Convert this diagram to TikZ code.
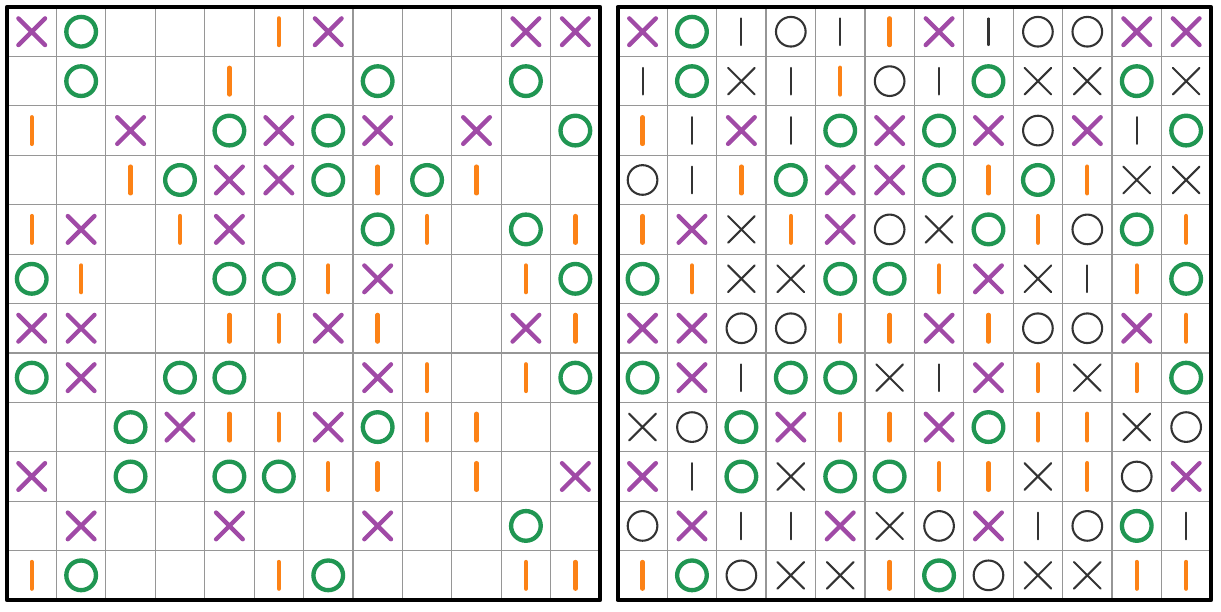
\documentclass[tikz,border=0pt]{standalone}
\usepackage{tikz}
\usetikzlibrary{shapes.misc}

\definecolor{crosspurple}{RGB}{160,74,166}
\definecolor{ringgreen}{RGB}{32,150,82}
\definecolor{barorange}{RGB}{252,130,22}
\definecolor{markgray}{RGB}{51,51,51}
\definecolor{gridgray}{RGB}{150,150,150}

\begin{document}
\begin{tikzpicture}[every node/.style={inner sep=0pt,outer sep=0pt},
  cross mark/.style={cross out,draw,minimum size=0.54cm},
  ring mark/.style={circle,draw,minimum size=0.6cm},
  bar mark/.style={rectangle,draw,line join=round,minimum width=0pt,minimum height=0.54cm},
  given mark/.style={line width=2.5pt,line cap=round},
  solved mark/.style={line width=1.2pt,line cap=round,draw=markgray},
  cX/.style={cross mark,given mark,draw=crosspurple},
  cO/.style={ring mark,given mark,draw=ringgreen},
  cI/.style={bar mark,given mark,draw=barorange},
  cx/.style={cross mark,solved mark},
  co/.style={ring mark,solved mark},
  ci/.style={bar mark,solved mark},
  lX/.style={cX},lO/.style={cO},lI/.style={cI},
  lx/.style={},lo/.style={},li/.style={},
  thin grid/.style={gridgray,line width=0.7pt},
  thick border/.style={black,line width=2.6pt,line join=round}]
\useasboundingbox (-0.142,0.142) rectangle (24.565,-12.242);

% the two grids
\draw[thin grid] (0,0) grid (12,-12);
\begin{scope}[xshift=12.36cm]
  \draw[thin grid] (0,0) grid (12,-12);
\end{scope}

% puzzle (left) and solution (right), capitals are the given cells
\foreach \row [count=\r from 0] in {
  {X,O,i,o,i,I,X,i,o,o,X,X},
  {i,O,x,i,I,o,i,O,x,x,O,x},
  {I,i,X,i,O,X,O,X,o,X,i,O},
  {o,i,I,O,X,X,O,I,O,I,x,x},
  {I,X,x,I,X,o,x,O,I,o,O,I},
  {O,I,x,x,O,O,I,X,x,i,I,O},
  {X,X,o,o,I,I,X,I,o,o,X,I},
  {O,X,i,O,O,x,i,X,I,x,I,O},
  {x,o,O,X,I,I,X,O,I,I,x,o},
  {X,i,O,x,O,O,I,I,x,I,o,X},
  {o,X,i,i,X,x,o,X,i,o,O,i},
  {I,O,o,x,x,I,O,o,x,x,I,I}} {
  \foreach \s [count=\c from 0] in \row {
    \node[l\s] (L-\r-\c) at (\c+0.5,-\r-0.5) {};
    \node[c\s] (R-\r-\c) at (\c+12.86,-\r-0.5) {};
  }
}

\draw[thick border] (0,0) rectangle (12,-12);
\draw[thick border] (12.36,0) rectangle (24.36,-12);
\end{tikzpicture}
\end{document}
